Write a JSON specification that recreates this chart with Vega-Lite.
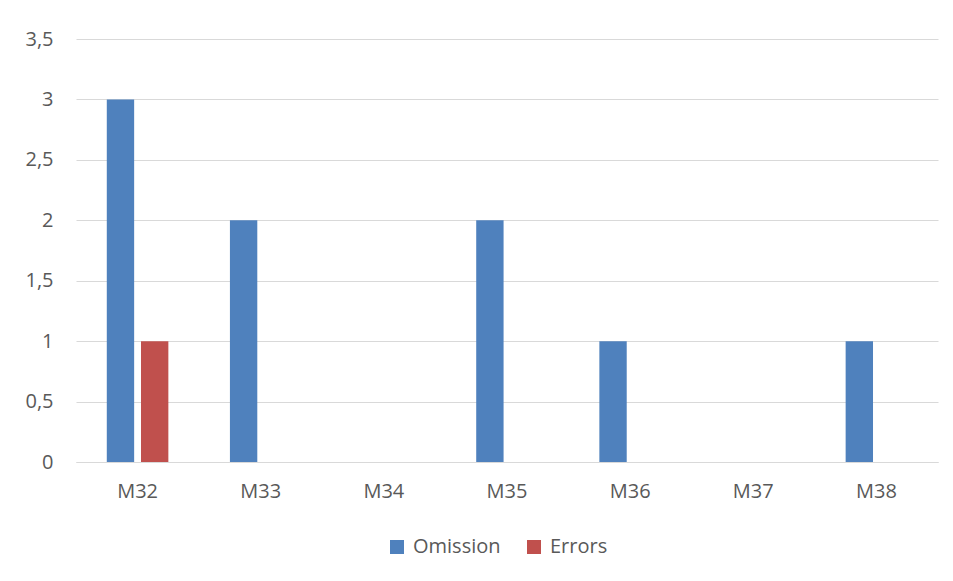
{
  "$schema": "https://vega.github.io/schema/vega-lite/v6.json",
  "width": 862,
  "height": 423,
  "autosize": {"type": "none"},
  "padding": {"left": 76, "top": 39, "right": 15, "bottom": 119},
  "background": "white",
  "data": {
    "values": [
      {"item": "M32", "series": "Omission", "count": 3},
      {"item": "M32", "series": "Errors", "count": 1},
      {"item": "M33", "series": "Omission", "count": 2},
      {"item": "M33", "series": "Errors", "count": 0},
      {"item": "M34", "series": "Omission", "count": 0},
      {"item": "M34", "series": "Errors", "count": 0},
      {"item": "M35", "series": "Omission", "count": 2},
      {"item": "M35", "series": "Errors", "count": 0},
      {"item": "M36", "series": "Omission", "count": 1},
      {"item": "M36", "series": "Errors", "count": 0},
      {"item": "M37", "series": "Omission", "count": 0},
      {"item": "M37", "series": "Errors", "count": 0},
      {"item": "M38", "series": "Omission", "count": 1},
      {"item": "M38", "series": "Errors", "count": 0}
    ]
  },
  "mark": {"type": "bar"},
  "encoding": {
    "x": {
      "field": "item",
      "type": "nominal",
      "sort": null,
      "title": null,
      "scale": {"paddingInner": 0.5, "paddingOuter": 0.25},
      "axis": {
        "labelAngle": 0,
        "ticks": false,
        "domain": true,
        "domainColor": "#D9D9D9",
        "domainWidth": 1,
        "labelPadding": 19,
        "labelFontSize": 20,
        "labelColor": "#595959",
        "labelFont": "Open Sans"
      }
    },
    "xOffset": {
      "field": "series",
      "type": "nominal",
      "sort": ["Omission", "Errors"],
      "scale": {"paddingInner": 0.2}
    },
    "y": {
      "field": "count",
      "type": "quantitative",
      "title": null,
      "scale": {"domain": [0, 3.5], "nice": false},
      "axis": {
        "values": [0, 0.5, 1, 1.5, 2, 2.5, 3, 3.5],
        "labelExpr": "replace(format(datum.value, '~g'), '.', ',')",
        "domain": false,
        "ticks": false,
        "labelPadding": 23,
        "labelFontSize": 20,
        "labelColor": "#595959",
        "labelFont": "Open Sans",
        "gridColor": "#D9D9D9",
        "gridWidth": 1
      }
    },
    "color": {
      "field": "series",
      "type": "nominal",
      "sort": ["Omission", "Errors"],
      "scale": {"domain": ["Omission", "Errors"], "range": ["#4F81BD", "#C0504D"]},
      "legend": {
        "title": null,
        "orient": "none",
        "legendX": 311,
        "legendY": 498,
        "direction": "horizontal",
        "symbolType": "square",
        "symbolSize": 196,
        "symbolStrokeWidth": 0,
        "labelFontSize": 20,
        "labelColor": "#595959",
        "labelFont": "Open Sans",
        "labelOffset": 6,
        "columnPadding": 23
      }
    }
  },
  "config": {
    "view": {"stroke": null},
    "legend": {"labelLimit": 300}
  }
}
